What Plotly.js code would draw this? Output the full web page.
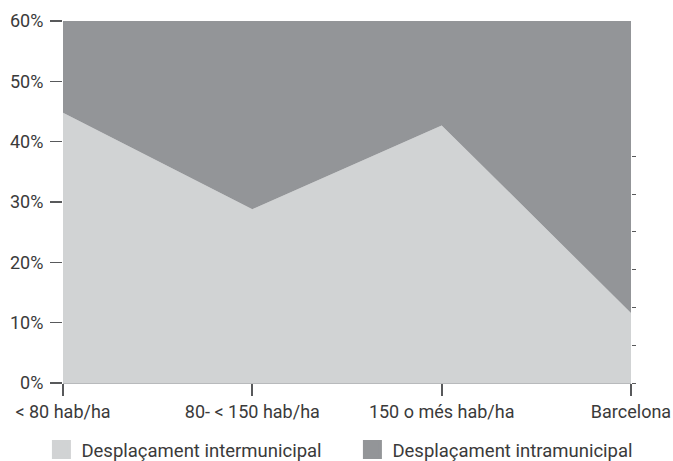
<!DOCTYPE html>
<html>
<head>
<meta charset="utf-8">
<script src="https://cdn.plot.ly/plotly-3.0.1.min.js"></script>
<style>html,body{margin:0;padding:0;background:#fff;}#chart{width:673px;height:461px;}</style>
</head>
<body>
<div id="chart"></div>
<script>
const categories = ["< 80 hab/ha", "80- < 150 hab/ha", "150 o més hab/ha", "Barcelona"];
const intermunicipal = [44.8, 28.8, 42.7, 11.6];
const intramunicipal = [55.2, 71.2, 57.3, 88.4];
const seriesNames = ["Desplaçament intermunicipal", "Desplaçament intramunicipal"];
const yTickVals = [0, 10, 20, 30, 40, 50, 60];
const yTickText = ["0%", "10%", "20%", "30%", "40%", "50%", "60%"];
const rightTickVals = [0, 1, 2, 3, 4, 5, 6];

const lightC = "#d1d3d4";
const darkC = "#939598";
const font = "Roboto, 'Open Sans', sans-serif";
const textC = "#3a3a3a";

const xIdx = categories.map((_, i) => i);

const traces = [
  {x: xIdx, y: intermunicipal, type: "scatter", mode: "none", stackgroup: "one",
   fillcolor: lightC, showlegend: false, hoverinfo: "skip"},
  {x: xIdx, y: intramunicipal, type: "scatter", mode: "none", stackgroup: "one",
   fillcolor: darkC, showlegend: false, hoverinfo: "skip"},
  {x: [null], y: [null], type: "scatter", mode: "markers", name: seriesNames[0],
   marker: {symbol: "square", size: 16, color: lightC, line: {color: lightC, width: 3}}},
  {x: [null], y: [null], type: "scatter", mode: "markers", name: seriesNames[1],
   marker: {symbol: "square", size: 16, color: darkC, line: {color: darkC, width: 3}}},
  {x: [0], y: [0], yaxis: "y2", type: "scatter", mode: "none", showlegend: false, hoverinfo: "skip"}
];

const layout = {
  width: 673, height: 461,
  margin: {l: 63, r: 42, t: 20.7, b: 77.7, autoexpand: false},
  paper_bgcolor: "#fff", plot_bgcolor: "#fff",
  font: {family: font, size: 18, color: textC},
  showlegend: true,
  legend: {orientation: "h", traceorder: "normal", xref: "paper", x: -0.038, xanchor: "left",
           y: -0.185, yanchor: "middle", itemsizing: "trace",
           font: {family: font, size: 18.5, color: textC}, entrywidth: 266},
  xaxis: {range: [0, 3], tickvals: xIdx, ticktext: categories,
          showgrid: false, zeroline: false, showline: true, linecolor: "#b8babc", linewidth: 1,
          ticks: "outside", ticklen: 12, tickwidth: 2, tickcolor: "#58595b",
          tickfont: {family: font, size: 18, color: textC}, fixedrange: true},
  yaxis: {range: [0, 60], tickvals: yTickVals, ticktext: yTickText,
          showgrid: false, zeroline: false, showline: false,
          ticks: "outside", ticklen: 12, tickwidth: 1.5, tickcolor: "#58595b",
          ticklabelstandoff: 3,
          tickfont: {family: font, size: 18, color: textC}, fixedrange: true},
  yaxis2: {overlaying: "y", side: "right", range: [0, 9.58], tickvals: rightTickVals,
           showticklabels: false, showgrid: false, zeroline: false, showline: false,
           ticks: "outside", ticklen: 4, tickwidth: 1, tickcolor: "#58595b", fixedrange: true}
};

Plotly.newPlot("chart", traces, layout, {displayModeBar: false, staticPlot: true});
</script>
</body>
</html>
